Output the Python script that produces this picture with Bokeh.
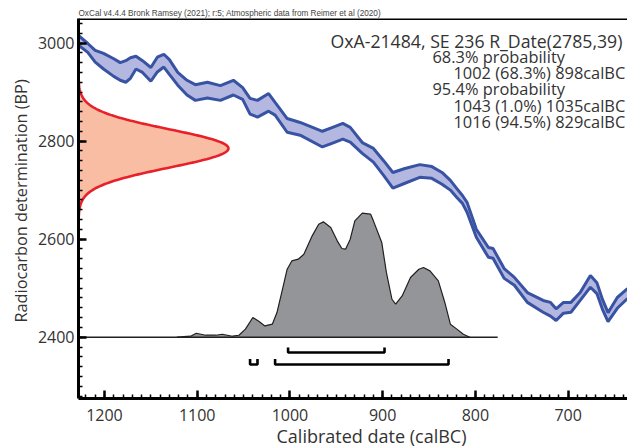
import numpy as np
from bokeh.plotting import figure
from bokeh.models import Range1d, FixedTicker, Label, Span, Title
from bokeh.embed import file_html
from bokeh.resources import INLINE

# ---------------- data ----------------
header_text = "OxCal v4.4.4 Bronk Ramsey (2021); r:5; Atmospheric data from Reimer et al (2020)"
sample_title = "OxA-21484, SE 236 R_Date(2785,39)"
prob_heads = ["68.3% probability", "95.4% probability"]
prob_lines_68 = ["1002 (68.3%) 898calBC"]
prob_lines_95 = ["1043 (1.0%) 1035calBC", "1016 (94.5%) 829calBC"]
x_title = "Calibrated date (calBC)"
y_title = "Radiocarbon determination (BP)"

r_date_bp = 2785
r_date_err = 39

# calibration curve (calBC, BP, 1-sigma)
curve_year = [1229, 1218, 1210, 1201, 1190, 1183, 1177, 1172, 1166, 1159,
              1150, 1143, 1136, 1130, 1121, 1111, 1102, 1089, 1075, 1061,
              1051, 1043, 1035, 1023, 1016, 1003, 989, 965, 954, 943,
              935, 922, 910, 899, 889, 876, 860, 847, 836, 827,
              820, 814, 809, 799, 786, 781, 769, 758, 744, 727,
              719, 713, 705, 697, 687, 676, 669, 663, 657, 647, 636]
curve_bp = [3007, 2990, 2973, 2963, 2950, 2942, 2942, 2949, 2960, 2952,
            2936, 2956, 2964, 2951, 2927, 2909, 2899, 2904, 2898, 2909,
            2897, 2871, 2866, 2879, 2866, 2832, 2825, 2804, 2812, 2820,
            2813, 2786, 2771, 2745, 2720, 2729, 2739, 2736, 2724, 2710,
            2694, 2681, 2665, 2612, 2573, 2571, 2530, 2514, 2481, 2463,
            2457, 2446, 2460, 2461, 2483, 2514, 2500, 2467, 2441, 2470, 2489]
curve_sigma = [10, 9, 12, 16, 18, 18, 22, 21, 13, 12,
               14, 15, 13, 15, 13, 15, 16, 16, 15, 15,
               12, 16, 17, 18, 13, 14, 13, 16, 16, 16,
               15, 11, 14, 15, 16, 15, 13, 12, 12, 10,
               9, 8, 10, 8, 10, 10, 10, 8, 10, 12,
               14, 12, 11, 10, 8, 12, 11, 10, 9, 11, 10]

# calibrated probability (relative to peak)
gray_year = [1122, 1107, 1101, 1091, 1080, 1073, 1062, 1055, 1048, 1040,
             1034, 1027, 1019, 1014, 1008, 1003, 998, 991, 985, 976,
             969, 964, 956, 949, 944, 940, 935, 930, 922, 913,
             910, 901, 896, 890, 886, 879, 870, 861, 856, 849,
             840, 833, 827, 820, 813, 806]
gray_prob = [0.0, 0.008, 0.032, 0.016, 0.016, 0.024, 0.008, 0.016, 0.065, 0.159,
             0.131, 0.091, 0.105, 0.199, 0.387, 0.548, 0.615, 0.629, 0.669, 0.817,
             0.911, 0.930, 0.885, 0.777, 0.715, 0.710, 0.790, 0.938, 1.000, 0.992,
             0.938, 0.764, 0.522, 0.306, 0.266, 0.333, 0.481, 0.548, 0.562, 0.535,
             0.454, 0.280, 0.105, 0.065, 0.024, 0.0]

range68 = [(1002, 898)]
range95 = [(1043, 1035), (1016, 829)]

y_major = [2400, 2600, 2800, 3000]
x_major = [700, 800, 900, 1000, 1100, 1200]

# ---------------- layout constants ----------------
X0, X1 = 1228, 636
Y0, Y1 = 2275, 3050
FL, FT, FW, FH = 78, 18, 549, 380      # frame in page pixels


def px_x(px):
    return X0 - (px - FL) / FW * (X0 - X1)


def px_y(py):
    return Y1 - (py - FT) / FH * (Y1 - Y0)


TXT = "#333333"
FONT = "Open Sans"

p = figure(width=627, height=448, x_range=Range1d(X0, X1), y_range=Range1d(Y0, Y1),
           output_backend="svg", toolbar_location=None,
           min_border_left=78, min_border_right=0, min_border_top=18, min_border_bottom=50)
p.outline_line_color = None
p.xgrid.visible = False
p.ygrid.visible = False
p.background_fill_color = "white"
p.border_fill_color = "white"

# header as title
p.title.text = header_text
p.title.text_font = "Liberation Sans"
p.title.text_font_size = "8.2px"
p.title.text_font_style = "normal"
p.title.text_color = "#444444"
p.title.align = "left"
p.title.standoff = 1

for ax in (p.xaxis[0], p.yaxis[0]):
    ax.axis_line_width = 3
    ax.axis_line_color = "black"
    ax.major_tick_in = 8
    ax.major_tick_out = 0
    ax.minor_tick_in = 4
    ax.minor_tick_out = 0
    ax.major_tick_line_width = 2.5
    ax.minor_tick_line_width = 1.5
    ax.major_tick_line_color = "black"
    ax.minor_tick_line_color = "black"
    ax.major_label_text_font = FONT
    ax.major_label_text_font_size = "16px"
    ax.major_label_text_color = TXT

p.xaxis.ticker = FixedTicker(ticks=x_major, minor_ticks=list(range(640, 1230, 10)))
p.yaxis.ticker = FixedTicker(ticks=y_major, minor_ticks=list(range(2280, 3050, 20)))
p.xaxis.major_label_standoff = 10
p.yaxis.major_label_standoff = 4

# axis titles
p.add_layout(Title(text=x_title, align="left", offset=198, text_font=FONT,
                   text_font_size="18px", text_font_style="normal", text_color=TXT,
                   standoff=-4), "below")
p.add_layout(Title(text=y_title, align="left", offset=76, text_font=FONT,
                   text_font_size="16.3px", text_font_style="normal", text_color=TXT,
                   standoff=5), "left")

# top frame line
p.add_layout(Span(location=Y1, dimension="width", line_color="black", line_width=3))

# calibration curve band
cy = np.array(curve_year, float)
cb = np.array(curve_bp, float)
cs = np.array(curve_sigma, float)
p.varea(x=cy, y1=cb - cs, y2=cb + cs, fill_color="#b4b8e0", fill_alpha=1)
p.line(cy, cb + cs, line_color="#3953a4", line_width=3)
p.line(cy, cb - cs, line_color="#3953a4", line_width=3)

# radiocarbon date (normal distribution on y axis)
RED_W = 161.7
ys = np.linspace(r_date_bp - 3.6 * r_date_err, r_date_bp + 3.6 * r_date_err, 200)
dens = np.exp(-0.5 * ((ys - r_date_bp) / r_date_err) ** 2)
xs = X0 - RED_W * dens
p.harea(y=ys, x1=np.full_like(ys, X0), x2=xs, fill_color="#f9bda3", fill_alpha=1)
p.line(xs, ys, line_color="#e8202a", line_width=2.6)

# calibrated distribution
BASE = 2400
GRAY_H = 253
gy = np.array(gray_year, float)
gp = np.array(gray_prob, float)
p.varea(x=gy, y1=np.full_like(gy, BASE), y2=BASE + GRAY_H * gp, fill_color="#939598", fill_alpha=1)
p.line(gy, BASE + GRAY_H * gp, line_color="#231f20", line_width=1.2)
p.line([X0, 776], [BASE, BASE], line_color="#231f20", line_width=1.6)


# ranges brackets
def bracket(r, yb, up):
    return [r[0], r[0], r[1], r[1]], [yb + up, yb, yb, yb + up]


bx, by = [], []
for r in range68:
    a, b = bracket(r, px_y(352), 10)
    bx.append(a); by.append(b)
for r in range95:
    a, b = bracket(r, px_y(364), 11)
    bx.append(a); by.append(b)
p.multi_line(bx, by, line_color="black", line_width=2.6)

# texts inside the frame
p.add_layout(Label(x=px_x(330), y=px_y(40.7), text=sample_title, text_font=FONT,
                   text_font_size="17.7px", text_color=TXT, text_baseline="alphabetic"))
lines = [(prob_heads[0], 432)] + [(t, 453) for t in prob_lines_68] + \
        [(prob_heads[1], 432)] + [(t, 453) for t in prob_lines_95]
for i, (t, lx) in enumerate(lines):
    p.add_layout(Label(x=px_x(lx), y=px_y(55.7 + 16.3 * i), text=t, text_font=FONT,
                       text_font_size="16.4px", text_color=TXT, text_baseline="alphabetic"))

open("out.html", "w").write(file_html(p, INLINE))
